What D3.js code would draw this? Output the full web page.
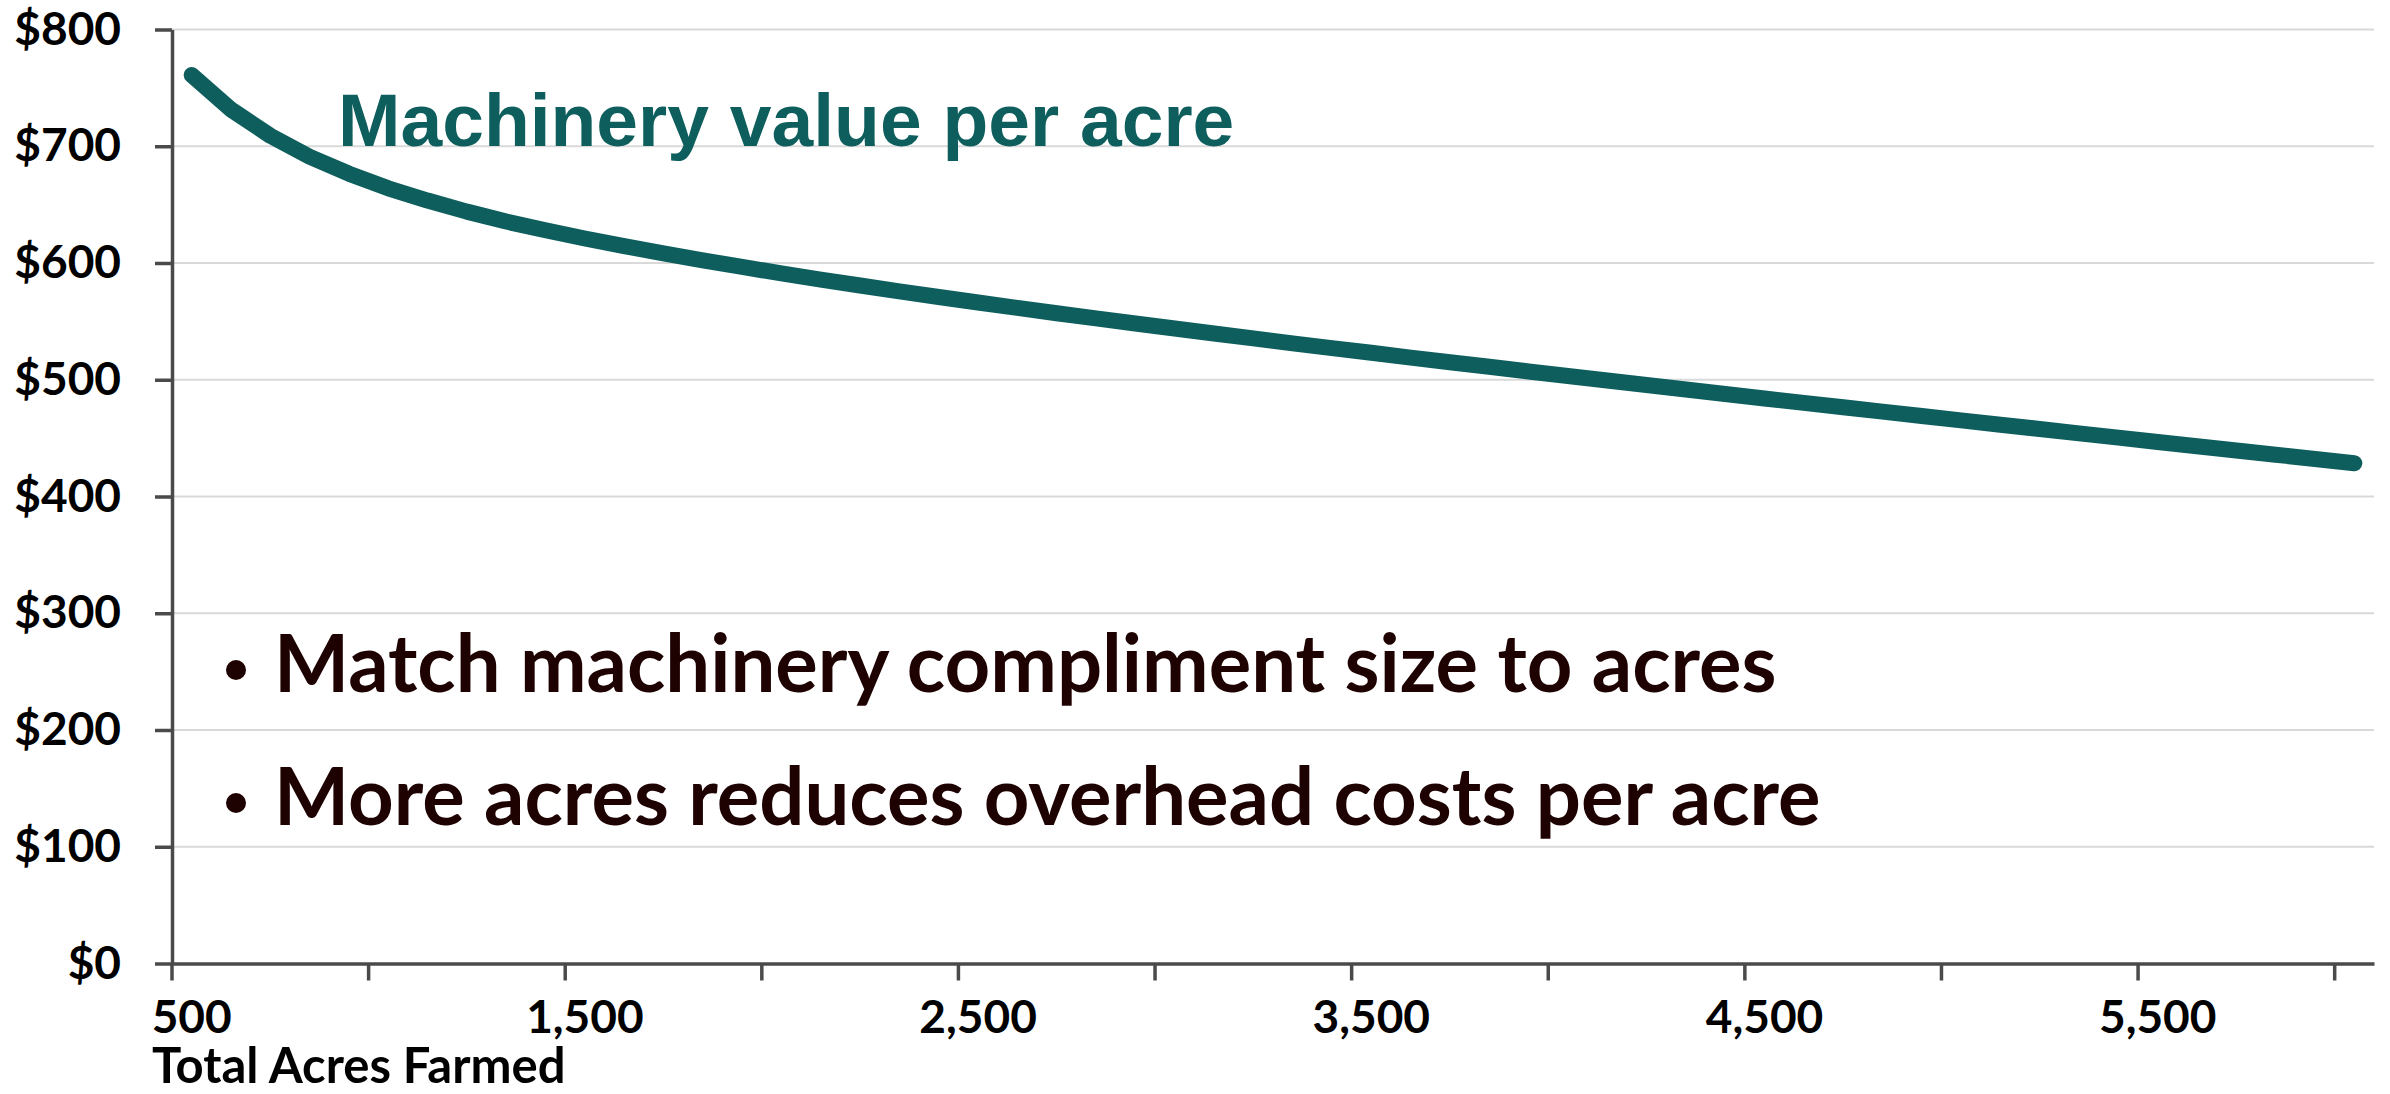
<!DOCTYPE html>
<html lang="en">
	<head>
		<meta charset="utf-8">
		<title>Machinery value per acre</title>
		<script src="https://d3js.org/d3.v7.min.js"></script>
		<style>
			body { margin: 0; background: white; }
		</style>
	</head>
	<body>
		<script type="text/javascript">

			// data
			var acres = [500, 600, 700, 800, 900, 1000, 1100, 1200, 1300, 1400,
				1500, 1600, 1700, 1800, 1900, 2000, 2100, 2200, 2300, 2400,
				2500, 2600, 2700, 2800, 2900, 3000, 3100, 3200, 3300, 3400,
				3500, 3600, 3700, 3800, 3900, 4000, 4100, 4200, 4300, 4400,
				4500, 4600, 4700, 4800, 4900, 5000, 5100, 5200, 5300, 5400,
				5500, 5600, 5700, 5800, 5900, 6000];
			var value = [761, 731.5, 709, 691, 676.5, 664, 653.5, 644, 635.5, 628,
				621, 614.5, 608.3, 602.3, 596.6, 591.1, 585.8, 580.7, 575.7, 570.9,
				566.2, 561.5, 557, 552.6, 548.2, 543.9, 539.6, 535.4, 531.2, 527.1,
				523.1, 519, 515, 511.1, 507.1, 503.2, 499.3, 495.5, 491.6, 487.8,
				484, 480.2, 476.4, 472.7, 468.9, 465.2, 461.5, 457.8, 454.1, 450.4,
				446.7, 443.1, 439.4, 435.8, 432.1, 428.5];

			var yTicks = [0, 100, 200, 300, 400, 500, 600, 700, 800];
			var xTickMarks = [500, 1000, 1500, 2000, 2500, 3000, 3500, 4000, 4500, 5000, 5500, 6000];
			var xLabels = [500, 1500, 2500, 3500, 4500, 5500];
			var bullets = ["Match machinery compliment size to acres",
				"More acres reduces overhead costs per acre"];

			//Width and height of svg
			var w = 2390;
			var h = 1094;
			var plotLeft = 172, plotRight = 2374, plotTop = 29.5, plotBottom = 963.5;

			var axisColor = "#4a4a4a";
			var teal = "#0e5e5d";

			//		Scale functions
			var x = d3.scaleBand().domain(acres).range([plotLeft, plotRight]).padding(0);
			var y = d3.scaleLinear().domain([0, 800]).range([plotBottom, plotTop]);
			var bw = x.bandwidth();

			//    Create SVG element
			var svg = d3.select("body").append("svg").attr("width", w).attr("height", h);
			svg.append("rect").attr("x", 0).attr("y", 0).attr("width", w).attr("height", h).attr("fill", "white");

			//    Gridlines
			svg.append("g").selectAll("line")
				.data(yTicks.filter(function(d) { return d > 0; }))
				.enter().append("line")
				.attr("x1", plotLeft).attr("x2", plotRight)
				.attr("y1", function(d) { return y(d); }).attr("y2", function(d) { return y(d); })
				.attr("stroke", "#d9d9d9").attr("stroke-width", 2);

			//    Y axis
			var y_axis = d3.axisLeft(y).tickValues(yTicks).tickSize(17).tickSizeOuter(0).tickPadding(34)
				.tickFormat(function(d) { return "$" + d; });
			var gy = svg.append("g").attr("transform", "translate(" + plotLeft + ",0)").call(y_axis);

			//    X axis (labels at category centres, tick marks between categories)
			var x_axis = d3.axisBottom(x).tickValues(xLabels).tickSize(0).tickSizeOuter(0).tickPadding(37)
				.tickFormat(d3.format(","));
			var gx = svg.append("g").attr("transform", "translate(0," + plotBottom + ")").call(x_axis);

			gx.selectAll("line.mark")
				.data(xTickMarks)
				.enter().append("line")
				.attr("class", "mark")
				.attr("x1", function(d) { return x(d); }).attr("x2", function(d) { return x(d); })
				.attr("y1", 0).attr("y2", 17);

			svg.selectAll(".domain, .tick line, line.mark")
				.attr("stroke", axisColor).attr("stroke-width", 3.5);
			svg.selectAll(".tick text")
				.attr("fill", "black")
				.style("font-family", "Lato, sans-serif")
				.style("font-weight", "bold")
				.style("font-size", "46px");

			svg.append("text")
				.text("Total Acres Farmed")
				.attr("x", 152).attr("y", 1083)
				.style("font-family", "Lato, sans-serif")
				.style("font-weight", "bold")
				.style("font-size", "49px")
				.attr("fill", "black");

			//    The line
			var line = d3.line()
				.x(function(d, i) { return x(acres[i]) + bw / 2; })
				.y(function(d) { return y(d); });

			svg.append("path")
				.datum(value)
				.attr("d", line)
				.attr("fill", "none")
				.attr("stroke", teal)
				.attr("stroke-width", 16)
				.attr("stroke-linecap", "round")
				.attr("stroke-linejoin", "round");

			//    Title and bullets
			svg.append("text")
				.text("Machinery value per acre")
				.attr("x", 338).attr("y", 146)
				.style("font-family", "'Liberation Sans', Arial, sans-serif")
				.style("font-weight", "bold")
				.style("font-size", "75px")
				.attr("fill", teal);

			var b = svg.append("g").selectAll("g")
				.data(bullets)
				.enter().append("g")
				.attr("transform", function(d, i) { return "translate(0," + (692 + i * 133) + ")"; });

			b.append("circle")
				.attr("cx", 236).attr("cy", -22).attr("r", 10)
				.attr("fill", "#1e0101");

			b.append("text")
				.text(function(d) { return d; })
				.attr("x", 274).attr("y", 0)
				.style("font-family", "Lato, sans-serif")
				.style("font-weight", "bold")
				.style("font-size", "79.6px")
				.attr("fill", "#1e0101");

		</script>
	</body>
</html>
